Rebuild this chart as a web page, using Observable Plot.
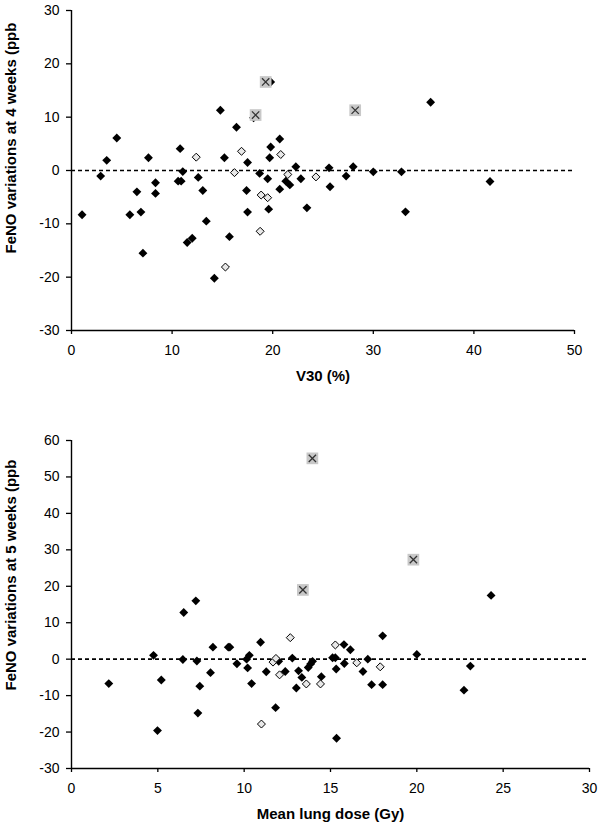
<!DOCTYPE html>
<html><head><meta charset="utf-8">
<script src="https://cdn.jsdelivr.net/npm/d3@7"></script>
<script src="https://cdn.jsdelivr.net/npm/@observablehq/plot@0.6"></script>
<style>body{margin:0;background:#fff;} svg{display:block;}</style>
</head><body><div id="c"></div>
<script>
// ---- Chart 1: V30 (%) vs FeNO variation at 4 weeks ----
const v30BlackX = [1.05,2.9,3.5,4.5,5.8,6.5,6.9,7.1,7.65,8.35,8.35,10.8,11.06,10.6,10.9,12.6,13.05,13.4,11.5,12.0,14.2,14.8,15.2,15.7,16.4,17.5,17.4,17.5,18.7,19.5,19.6,19.7,19.8,20.7,20.7,21.3,21.7,22.3,22.8,23.4,25.6,25.7,27.3,28.0,30.0,32.8,33.2,35.7,41.6,19.8,18.1];
const v30BlackY = [-8.3,-1.05,1.9,6.1,-8.3,-4.0,-7.8,-15.5,2.4,-2.3,-4.3,4.1,-0.2,-2.0,-2.0,-1.3,-3.75,-9.5,-13.5,-12.7,-20.2,11.3,2.4,-12.4,8.1,1.5,-3.75,-7.8,-0.55,-1.55,-7.25,2.4,4.4,5.9,-3.5,-2.0,-2.7,0.7,-1.55,-7.0,0.5,-3.05,-1.05,0.7,-0.25,-0.25,-7.75,12.8,-2.06,16.6,9.9];
const v30OpenX = [12.4,15.3,16.2,16.9,18.75,18.85,19.5,20.8,21.5,24.3];
const v30OpenY = [2.5,-18.1,-0.4,3.6,-11.4,-4.6,-5.1,3.0,-0.75,-1.2];
const v30CrossX = [19.3,18.3,28.2];
const v30CrossY = [16.6,10.4,11.3];
const v30XTicks = [0,10,20,30,40,50];
const v30YTicks = [-30,-20,-10,0,10,20,30];

// ---- Chart 2: Mean lung dose (Gy) vs FeNO variation at 5 weeks ----
const mldBlackX = [2.16,4.75,4.98,5.2,6.45,6.5,7.26,7.2,7.43,7.32,8.05,8.19,9.08,9.17,9.58,10.14,10.3,10.2,10.43,10.95,11.28,12.0,11.82,12.38,12.79,13.02,13.15,13.34,13.71,13.85,13.96,14.47,15.12,15.28,15.33,15.35,15.78,15.8,16.15,16.88,17.16,17.38,18.02,18.02,20.0,22.73,23.1,24.3];
const mldBlackY = [-6.7,1.05,-19.6,-5.7,-0.1,12.8,-0.5,16.0,-7.4,-14.8,-3.7,3.3,3.3,3.3,-1.25,0,1.05,-2.4,-6.7,4.65,-3.45,-0.6,-13.3,-3.4,0.3,-7.9,-3.2,-5.0,-2.3,-1.3,-0.6,-4.8,0.4,0.4,-2.7,-21.7,4.0,-1.2,2.6,-3.4,0,-7.0,-7.0,6.4,1.3,-8.5,-1.9,17.5];
const mldOpenX = [11.0,11.67,11.84,12.05,12.67,13.6,14.42,15.28,16.52,17.88];
const mldOpenY = [-17.8,-0.8,0.2,-4.3,5.9,-6.8,-6.8,3.9,-1.0,-2.1];
const mldCrossX = [13.95,13.4,19.8];
const mldCrossY = [55.1,19,27.3];
const mldXTicks = [0,5,10,15,20,25,30];
const mldYTicks = [-30,-20,-10,0,10,20,30,40,50,60];

const zip = (xs, ys) => xs.map((x, i) => ({x, y: ys[i]}));

function chart(o) {
  const black = zip(o.bx, o.by), open = zip(o.ox, o.oy), cross = zip(o.cx, o.cy);
  const ymin = o.yTicks[0];
  return Plot.plot({
    width: 600, height: o.height,
    marginTop: o.mt, marginBottom: o.mb, marginLeft: 71, marginRight: o.mr,
    style: {fontFamily: "'Liberation Sans', Arial, sans-serif", fontSize: "14px", color: "#000", background: "#fff"},
    x: {domain: [o.xTicks[0], o.xTicks[o.xTicks.length - 1]]},
    y: {domain: [ymin, o.yTicks[o.yTicks.length - 1]]},
    marks: [
      Plot.ruleY([0], {stroke: "#000", strokeWidth: 1.6, strokeDasharray: "4,3"}),
      Plot.axisY({ticks: o.yTicks, tickSize: 5, tickPadding: 7, label: null, tickFormat: d => String(d), fontSize: 14, strokeWidth: 1.3}),
      Plot.axisX({ticks: o.xTicks, tickSize: 4, tickPadding: 11, label: null, tickFormat: d => String(d), fontSize: 14, strokeWidth: 1.3}),
      Plot.ruleX([o.xTicks[0]], {stroke: "#000", strokeWidth: 1.4}),
      Plot.ruleY([ymin], {stroke: "#000", strokeWidth: 1.4}),
      Plot.dot(black, {x: "x", y: "y", symbol: "diamond2", r: 4, fill: "#000", stroke: "none"}),
      Plot.dot(open, {x: "x", y: "y", symbol: "diamond2", r: 3.6, fill: "#e8e8e8", stroke: "#000", strokeWidth: 1}),
      Plot.dot(cross, {x: "x", y: "y", symbol: "square", r: 6.6, fill: "#c8c8c8", stroke: "none"}),
      Plot.dot(cross, {x: "x", y: "y", symbol: "times", r: 3.4, stroke: "#333", strokeWidth: 1.3}),
      Plot.text([o.ylabel], {text: d => d, frameAnchor: "left", rotate: -90, textAnchor: "start", dx: -60, dy: o.ydy, fontWeight: "bold", fontSize: 15}),
      Plot.text([o.xlabel], {text: d => d, frameAnchor: "bottom", dy: 50, fontWeight: "bold", fontSize: 15})
    ]
  });
}

const c = document.getElementById("c");
c.append(chart({
  height: 400, mt: 10, mb: 70, mr: 26,
  bx: v30BlackX, by: v30BlackY, ox: v30OpenX, oy: v30OpenY, cx: v30CrossX, cy: v30CrossY,
  xTicks: v30XTicks, yTicks: v30YTicks,
  ylabel: "FeNO variations at 4 weeks (ppb", xlabel: "V30 (%)", ydy: 83
}));
c.append(chart({
  height: 432, mt: 40, mb: 64, mr: 11,
  bx: mldBlackX, by: mldBlackY, ox: mldOpenX, oy: mldOpenY, cx: mldCrossX, cy: mldCrossY,
  xTicks: mldXTicks, yTicks: mldYTicks,
  ylabel: "FeNO variations at 5 weeks (ppb", xlabel: "Mean lung dose (Gy)", ydy: 86
}));
</script>
</body></html>
